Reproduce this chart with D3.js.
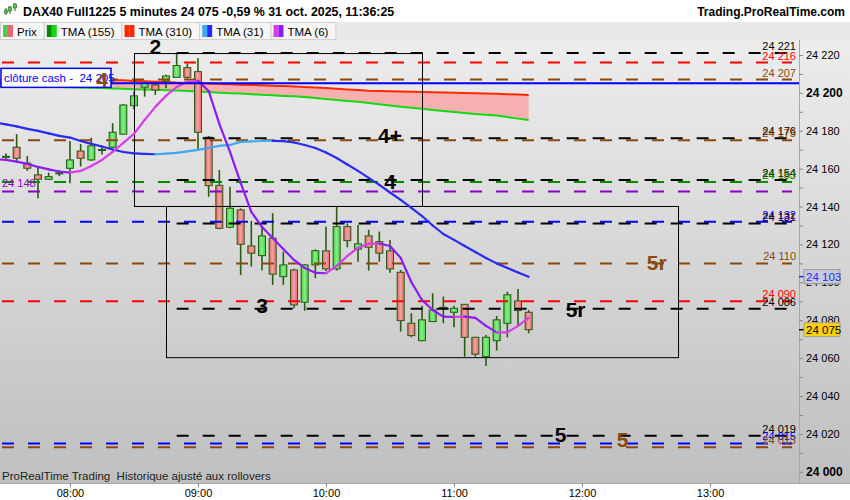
<!DOCTYPE html>
<html>
<head>
<meta charset="utf-8">
<script src="https://cdn.jsdelivr.net/npm/d3@7"></script>
<style>
body { margin: 0; background: #fff; }
svg { display: block; font-family: "Liberation Sans", Arial, sans-serif; }
text { white-space: pre; }
</style>
</head>
<body>
<svg id="chart" width="850" height="500"></svg>
<script>
// 5 minute bars, DAX40 Full1225, 31 oct. 2025
const times = ['07:30','07:35','07:40','07:45','07:50','07:55','08:00','08:05','08:10','08:15',
  '08:20','08:25','08:30','08:35','08:40','08:45','08:50','08:55','09:00','09:05',
  '09:10','09:15','09:20','09:25','09:30','09:35','09:40','09:45','09:50','09:55',
  '10:00','10:05','10:10','10:15','10:20','10:25','10:30','10:35','10:40','10:45',
  '10:50','10:55','11:00','11:05','11:10','11:15','11:20','11:25','11:30','11:35'];
const opens = [24166, 24171.3, 24162.9, 24156.7, 24154.4, 24157.4, 24160.2, 24169.3, 24164.6, 24169.6,
  24171.3, 24178.2, 24193.2, 24203, 24204.2, 24206.3, 24208.2, 24213.3, 24211.2, 24176.6,
  24151.2, 24129.1, 24138.2, 24119.2, 24114.1, 24123.3, 24103, 24106.5, 24089.5, 24109.2,
  24116.6, 24107.1, 24129.4, 24117.5, 24124.5, 24121.5, 24116.6, 24105.3, 24078.4, 24069.2,
  24079.3, 24086.8, 24084.2, 24088.4, 24071, 24060.8, 24069.2, 24078.4, 24090.2, 24084.2];
const highs = [24168, 24178.2, 24166.7, 24160.5, 24157.9, 24159, 24174.6, 24173, 24176.4, 24172,
  24184, 24194, 24200.6, 24205.8, 24205, 24209.5, 24221, 24215.6, 24218.3, 24177.2,
  24159.3, 24150.5, 24139, 24132.4, 24129.4, 24136.5, 24116.2, 24107.2, 24109.6, 24117.4,
  24129.4, 24140, 24131.1, 24130.3, 24127.7, 24126.8, 24122.4, 24106.5, 24083.7, 24087.6,
  24094.2, 24092.5, 24087.6, 24088.6, 24071.2, 24072.2, 24082.3, 24095, 24096.5, 24085.4];
const lows = [24164, 24162.9, 24158.8, 24144.4, 24154, 24156, 24152.3, 24161.1, 24164, 24167.5,
  24171, 24178, 24191.3, 24198, 24198.9, 24202.4, 24208, 24207.5, 24170.2, 24145.2,
  24128, 24128.5, 24103.9, 24108.3, 24106.2, 24098.6, 24098.6, 24086.3, 24085, 24102.2,
  24106, 24106.2, 24118.5, 24110.9, 24106.2, 24110.9, 24105.1, 24074, 24071, 24069,
  24079, 24078.4, 24076.3, 24060.8, 24060.8, 24055.9, 24064, 24071, 24077, 24073.1];
const closes = [24166.5, 24165.5, 24160.2, 24154.4, 24155.8, 24157.8, 24164.6, 24165.5, 24172, 24170.1,
  24179.2, 24193.6, 24198.4, 24205.1, 24201.5, 24208.9, 24214.4, 24208.2, 24179.2, 24151,
  24128.5, 24139.1, 24120.1, 24115.4, 24124.5, 24104.3, 24109.2, 24088.1, 24109.2, 24116.7,
  24107.1, 24129.4, 24122, 24120.3, 24118.5, 24115.4, 24107.1, 24079.8, 24071.9, 24080.2,
  24085.4, 24086.2, 24086.3, 24071, 24062.1, 24071, 24080.2, 24093.4, 24085.1, 24075];

// moving averages, one value per bar, plus the bar just left of the window (07:25)
const lineTimes = ['07:25'].concat(times);
const tma155 = [24203.85, 24203.75, 24203.6, 24203.5, 24203.3, 24203.2, 24203.05, 24202.95, 24202.8, 24202.7, 24202.5,
  24202.3, 24202.2, 24201.95, 24201.8, 24201.6, 24201.4, 24201.2, 24200.95, 24200.7, 24200.4,
  24200.1, 24199.8, 24199.6, 24199.3, 24199, 24198.7, 24198.4, 24198.15, 24197.8, 24197.25,
  24196.8, 24196.25, 24195.7, 24195.25, 24194.7, 24194, 24193.35, 24192.7, 24192.1, 24191.55,
  24191, 24190.4, 24189.9, 24189.4, 24188.9, 24188.4, 24188, 24187.2, 24186.4, 24185.7];
const tma310 = [24206.65, 24206.65, 24206.65, 24206.65, 24206.65, 24206.65, 24206.65, 24206.65, 24206.65, 24206.65, 24206.65,
  24206.65, 24206.6, 24206.3, 24206.1, 24205.9, 24205.7, 24205.4, 24205.3, 24205.1, 24204.9,
  24204.7, 24204.5, 24204.3, 24204.2, 24204, 24203.75, 24203.6, 24203.4, 24203.1, 24202.8,
  24202.5, 24202.1, 24201.8, 24201.5, 24201.15, 24201, 24200.85, 24200.7, 24200.6, 24200.5,
  24200.3, 24200.2, 24200.05, 24199.9, 24199.75, 24199.6, 24199.5, 24199.3, 24199.1, 24198.9];
const tma31 = [24184.3, 24183.4, 24182.3, 24181, 24179.9, 24178.6, 24177.3, 24176.4, 24174.6, 24173.1, 24171.7,
  24170.1, 24168.8, 24168.1, 24167.8, 24167.6, 24167.9, 24168.3, 24169.1, 24169.9, 24170.9,
  24172, 24172.5, 24174.1, 24174.4, 24174.6, 24174.65, 24174.5, 24173.8, 24172.5, 24170.9,
  24168.5, 24165.6, 24162.2, 24158.8, 24155.1, 24151.4, 24147.4, 24143.5, 24139.3, 24135,
  24130, 24125.5, 24122.4, 24119.2, 24116, 24112.8, 24110, 24107.6, 24105.2, 24102.9];
const tma6 = [24165, 24164.6, 24163.7, 24162.5, 24160.9, 24159.6, 24158.5, 24157.9, 24158.8, 24161.4, 24164.6,
  24168.8, 24173.6, 24178.3, 24185.7, 24192.6, 24198.4, 24203.1, 24205.8, 24206.3, 24201,
  24183.6, 24168.8, 24152.5, 24137.2, 24129.2, 24123.4, 24117.6, 24111.8, 24107.6, 24105,
  24104.8, 24108.7, 24113.9, 24118.2, 24120.3, 24120.5, 24119.2, 24112.9, 24100.2, 24090.7,
  24085.4, 24081.9, 24081.7, 24081.9, 24081.2, 24077, 24073.6, 24073.6, 24077, 24081.2];

// horizontal levels drawn on the chart
const levelValues = [24221, 24216, 24207, 24176, 24175, 24154, 24153, 24148, 24132, 24131, 24110, 24090, 24086, 24019, 24015, 24013];
const levelKinds = ['black','red','brown','black','brown','black','green','purple','blue','black','brown','red','black','black','blue','brown'];
const closeCash = 24205;

// rectangles and text notes
const boxStarts = ['08:30', '08:45'];
const boxEnds = ['10:45', '12:45'];
const boxTops = [24221, 24140.3];
const boxBottoms = [24140.3, 24060.5];
const noteTexts = ['2', '4', '4+', '4', '3', '5r', '5r', '5', '5'];
const noteTimes = ['08:40', '08:15', '10:30', '10:30', '09:30', '12:35', '11:57', '11:50', '12:19'];
const noteValues = [24220.5, 24203.1, 24173.6, 24149.3, 24083.9, 24106.5, 24081.7, 24015.8, 24013.1];
const noteKinds = ['black', 'brown', 'black', 'black', 'black', 'brown', 'black', 'black', 'brown'];

const priceTicks = [24000, 24010, 24020, 24030, 24040, 24050, 24060, 24070, 24080, 24090, 24100, 24110,
  24120, 24130, 24140, 24150, 24160, 24170, 24180, 24190, 24200, 24210, 24220];
const timeTicks = ['08:00', '09:00', '10:00', '11:00', '12:00', '13:00'];
const legendNames = ['Prix', 'TMA (155)', 'TMA (310)', 'TMA (31)', 'TMA (6)'];

const kindColor = {black: '#000', red: '#ff0000', brown: '#8b4a0c', green: '#008a00', purple: '#8a00c8', blue: '#0000ff'};
const fr = d3.formatLocale({decimal: ',', thousands: ' ', grouping: [3], currency: ['', ' €']});
const fmt = fr.format(',');

const svg = d3.select('#chart');
const plotTop = 40, plotBottom = 483, plotRight = 799;
const parseT = d3.timeParse('%H:%M');
const x = d3.scaleTime()
  .domain([d3.timeParse('%H:%M:%S')('07:27:12'), d3.timeParse('%H:%M:%S')('13:41:42')])
  .range([0, plotRight]);
const y = d3.scaleLinear().domain([23994.1, 24249]).range([plotBottom, 0]);

const defs = svg.append('defs');
const bg = defs.append('linearGradient').attr('id', 'bg').attr('x1', 0).attr('x2', 0).attr('y1', 0).attr('y2', 1);
bg.append('stop').attr('offset', 0).attr('stop-color', '#ededed');
bg.append('stop').attr('offset', 1).attr('stop-color', '#bfbfbf');
const gUp = defs.append('linearGradient').attr('id', 'up');
gUp.append('stop').attr('offset', 0).attr('stop-color', '#3fc93f');
gUp.append('stop').attr('offset', 0.45).attr('stop-color', '#86f086');
gUp.append('stop').attr('offset', 1).attr('stop-color', '#4ad04a');
const gDn = defs.append('linearGradient').attr('id', 'dn');
gDn.append('stop').attr('offset', 0).attr('stop-color', '#e05e5e');
gDn.append('stop').attr('offset', 0.45).attr('stop-color', '#f5a3a3');
gDn.append('stop').attr('offset', 1).attr('stop-color', '#e46c6c');
defs.append('clipPath').attr('id', 'plot').append('rect')
  .attr('x', 0).attr('y', plotTop).attr('width', plotRight).attr('height', plotBottom - plotTop);

// backgrounds
svg.append('rect').attr('width', 850).attr('height', 500).attr('fill', '#fff');
svg.append('rect').attr('x', 0).attr('y', plotTop).attr('width', 850).attr('height', plotBottom - plotTop).attr('fill', 'url(#bg)');

const plot = svg.append('g').attr('clip-path', 'url(#plot)');

// TMA 155 / 310 band
const band = lineTimes.map((t, i) => ({t: parseT(t), a: tma155[i], b: tma310[i]}));
plot.append('path').datum(band)
  .attr('d', d3.area().x(d => x(d.t)).y0(d => y(d.a)).y1(d => y(d.b)))
  .attr('fill', '#f8b0b0');
plot.append('path').datum(band)
  .attr('d', d3.line().x(d => x(d.t)).y(d => y(d.b)))
  .attr('fill', 'none').attr('stroke', '#ff2a00').attr('stroke-width', 2);
plot.append('path').datum(band)
  .attr('d', d3.line().x(d => x(d.t)).y(d => y(d.a)))
  .attr('fill', 'none').attr('stroke', '#14d814').attr('stroke-width', 2);

// candles
const bars = times.map((t, i) => ({t: parseT(t), o: opens[i], h: highs[i], l: lows[i], c: closes[i]}));
const cg = plot.append('g').selectAll('g').data(bars).join('g');
cg.append('line')
  .attr('x1', d => x(d.t)).attr('x2', d => x(d.t))
  .attr('y1', d => y(d.h)).attr('y2', d => y(d.l))
  .attr('stroke', '#2b5a14').attr('stroke-width', 1.6);
cg.append('rect')
  .attr('x', d => x(d.t) - 3.5).attr('width', 7)
  .attr('y', d => y(Math.max(d.o, d.c)))
  .attr('height', d => Math.max(1, Math.abs(y(d.o) - y(d.c))))
  .attr('fill', d => d.c >= d.o ? 'url(#up)' : 'url(#dn)')
  .attr('stroke', '#2b5a14').attr('stroke-width', 1);

// levels
const levels = levelValues.map((v, i) => ({v, kind: levelKinds[i]}));
plot.append('g').selectAll('line').data(levels).join('line')
  .attr('x1', d => d.kind === 'black' ? x(parseT('08:50')) : 2)
  .attr('x2', 792)
  .attr('y1', d => y(d.v)).attr('y2', d => y(d.v))
  .attr('stroke', d => kindColor[d.kind]).attr('stroke-width', 2)
  .attr('stroke-dasharray', '12,14');

// rectangles
plot.append('g').selectAll('rect').data(boxStarts).join('rect')
  .attr('x', (d, i) => x(parseT(d)) + 0.5)
  .attr('y', (d, i) => y(boxTops[i]) + 0.5)
  .attr('width', (d, i) => x(parseT(boxEnds[i])) - x(parseT(d)))
  .attr('height', (d, i) => y(boxBottoms[i]) - y(boxTops[i]))
  .attr('fill', 'none').attr('stroke', '#000').attr('stroke-width', 1);

// coloured segments for TMA 31 and TMA 6
function twoTone(values, upColor, downColor) {
  const pts = lineTimes.map((t, i) => ({t: parseT(t), v: values[i]}));
  plot.append('g').selectAll('line').data(pts.slice(1)).join('line')
    .attr('x1', (d, i) => x(pts[i].t)).attr('y1', (d, i) => y(pts[i].v))
    .attr('x2', d => x(d.t)).attr('y2', d => y(d.v))
    .attr('stroke', (d, i) => d.v >= pts[i].v ? upColor : downColor)
    .attr('stroke-width', 2.2).attr('stroke-linecap', 'round');
}
twoTone(tma31, '#3ea8f0', '#2a2af0');
twoTone(tma6, '#d63ee8', '#8c1cf4');

// close cash line
plot.append('line').attr('x1', 0).attr('x2', plotRight)
  .attr('y1', y(closeCash)).attr('y2', y(closeCash))
  .attr('stroke', '#0000ff').attr('stroke-width', 2);

// level labels on the right
plot.append('g').selectAll('text').data(levels.filter(d => d.kind !== 'purple')).join('text')
  .attr('x', 796).attr('y', d => y(d.v) - 3)
  .attr('text-anchor', 'end').attr('font-size', 11)
  .attr('fill', d => kindColor[d.kind])
  .text(d => fmt(d.v));
plot.append('text').attr('x', 2).attr('y', y(24148) - 4)
  .attr('font-size', 11).attr('fill', kindColor.purple).text(fmt(24148));

// clôture cash tag
const cc = plot.append('g');
cc.append('rect').attr('x', 1).attr('y', y(closeCash) - 15).attr('width', 110).attr('height', 19)
  .attr('fill', '#fff').attr('stroke', '#0000ff').attr('stroke-width', 1.5);
cc.append('text').attr('x', 4).attr('y', y(closeCash) - 1.5).attr('font-size', 11.5)
  .attr('fill', '#0000ff').text('clôture cash -  ' + fmt(closeCash));

// notes
plot.append('g').selectAll('text').data(noteTexts).join('text')
  .attr('x', (d, i) => x(parseT(noteTimes[i])))
  .attr('y', (d, i) => y(noteValues[i]))
  .attr('text-anchor', 'middle').attr('font-size', 21).attr('font-weight', 'bold')
  .attr('fill', (d, i) => kindColor[noteKinds[i]])
  .text(d => d);

plot.append('text').attr('x', 2).attr('y', 480).attr('font-size', 11.5).attr('fill', '#222')
  .text('ProRealTime Trading  Historique ajusté aux rollovers');

// right axis
const ra = svg.append('g').attr('transform', `translate(${plotRight},0)`)
  .call(d3.axisRight(y).tickValues(priceTicks).tickSize(4)
    .tickFormat(d => d % 20 === 0 ? fmt(d) : ''));
ra.select('.domain').attr('stroke', '#a8a8a8').attr('d', `M0.5,${plotTop}V${plotBottom}`);
ra.selectAll('.tick line').attr('stroke', '#888');
ra.selectAll('.tick text').attr('x', 7)
  .attr('font-family', '"Liberation Sans", Arial, sans-serif')
  .attr('font-size', d => d % 200 === 0 ? 12 : 11)
  .attr('font-weight', d => d % 200 === 0 ? 'bold' : 'normal')
  .attr('fill', '#000');

// last values on the axis
function tag(v, fill, stroke, color) {
  const g = svg.append('g');
  g.append('line').attr('x1', plotRight).attr('x2', plotRight + 7).attr('y1', y(v)).attr('y2', y(v))
    .attr('stroke', color).attr('stroke-width', 1.5);
  g.append('rect').attr('x', plotRight + 5).attr('y', y(v) - 7).attr('width', 36).attr('height', 14)
    .attr('fill', fill).attr('stroke', stroke);
  g.append('text').attr('x', plotRight + 7).attr('y', y(v) + 4).attr('font-size', 11.5)
    .attr('fill', color).text(fmt(v));
}
tag(Math.round(tma31[tma31.length - 1]), '#c9c9dc', '#9a9a9a', '#2a2af0');
tag(closes[closes.length - 1], '#ffd200', '#a0a0a0', '#000');

// bottom axis
svg.append('rect').attr('x', 0).attr('y', plotBottom).attr('width', 850).attr('height', 500 - plotBottom).attr('fill', '#fff');
const ba = svg.append('g').attr('transform', `translate(0,${plotBottom})`)
  .call(d3.axisBottom(x).tickValues(timeTicks.map(parseT)).tickSize(4).tickFormat(d3.timeFormat('%H:%M')));
ba.select('.domain').attr('stroke', '#a8a8a8').attr('d', `M0,0.5H850`);
ba.selectAll('.tick line').attr('stroke', '#888');
ba.selectAll('.tick text').attr('y', 6).attr('font-size', 11)
  .attr('font-family', '"Liberation Sans", Arial, sans-serif').attr('fill', '#000');

// header
const hd = svg.append('g');
hd.append('rect').attr('width', 850).attr('height', 22).attr('fill', '#fff');
[[6, 8, 15, 10, 13], [10, 6, 14, 7, 11], [15, 3, 11, 4, 8]].forEach(c => {
  hd.append('line').attr('x1', c[0]).attr('x2', c[0]).attr('y1', c[1]).attr('y2', c[2]).attr('stroke', '#2b5a14');
  hd.append('rect').attr('x', c[0] - 1.5).attr('y', c[3]).attr('width', 3).attr('height', c[4] - c[3])
    .attr('fill', '#4ad04a').attr('stroke', '#2b5a14').attr('stroke-width', 0.6);
});
hd.append('text').attr('x', 23).attr('y', 15.5).attr('font-size', 12.4).attr('font-weight', 'bold')
  .text('DAX40 Full1225 5 minutes 24 075 -0,59 % 31 oct. 2025, 11:36:25');
hd.append('text').attr('x', 845).attr('y', 15.5).attr('text-anchor', 'end')
  .attr('font-size', 12).attr('font-weight', 'bold').text('Trading.ProRealTime.com');

// legend row
const swatches = [['#4ccc4c', '#e66a6a'], ['#008a00', '#14d814'], ['#ff2a00', '#ff2a00'], ['#3ea8f0', '#2a2af0'], ['#d63ee8', '#8c1cf4']];
const lg = svg.append('g');
lg.append('rect').attr('y', 22).attr('width', 850).attr('height', 18).attr('fill', '#e9e9e9');
let lx = 0;
legendNames.forEach((name, i) => {
  const item = lg.append('g');
  const box = item.append('rect').attr('x', lx + 0.5).attr('y', 22.5).attr('height', 17)
    .attr('fill', '#f6f6f6').attr('stroke', '#cfcfcf');
  item.append('rect').attr('x', lx + 3).attr('y', 25).attr('width', 5).attr('height', 12).attr('fill', swatches[i][0]);
  item.append('rect').attr('x', lx + 8).attr('y', 25).attr('width', 5).attr('height', 12).attr('fill', swatches[i][1]);
  const t = item.append('text').attr('x', lx + 17).attr('y', 35.5).attr('font-size', 11.5).text(name);
  const w = t.node().getComputedTextLength() + 24;
  box.attr('width', w);
  lx += w;
});
</script>
</body>
</html>
